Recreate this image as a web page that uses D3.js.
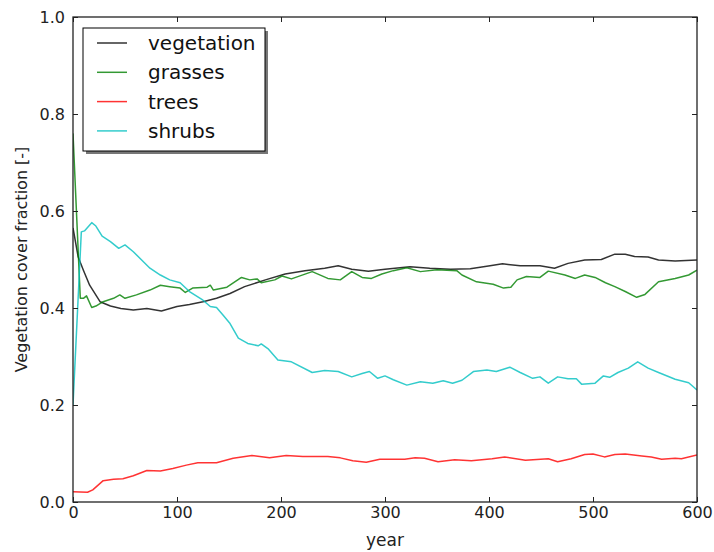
<!DOCTYPE html>
<html>
<head>
  <meta charset="utf-8">
  <title>Vegetation cover fraction</title>
  <script src="https://cdn.jsdelivr.net/npm/d3@7"></script>
  <style>
    body { margin:0; background:white; }
    svg text { font-family:"DejaVu Sans", sans-serif; }
    .axis text { font-size:16px; fill:#222; }
    .axis line { stroke:#222; }
  </style>
</head>
<body>
<div id="chart"></div>
<script>
// series (year, fraction)
var vegYears  = [0, 5, 10, 16, 26, 36, 46, 58, 71, 85, 100, 112, 125, 138, 151, 165, 185, 204, 223, 242, 255, 268, 284, 300, 324, 343, 363, 382, 401, 413, 430, 449, 463, 476, 492, 508, 521, 531, 540, 553, 563, 579, 600];
var vegValues = [0.565, 0.505, 0.478, 0.447, 0.413, 0.404, 0.399, 0.396, 0.399, 0.394, 0.403, 0.407, 0.413, 0.42, 0.43, 0.444, 0.458, 0.47, 0.477, 0.482, 0.487, 0.48, 0.476, 0.48, 0.485, 0.482, 0.48, 0.481, 0.487, 0.491, 0.487, 0.487, 0.482, 0.492, 0.499, 0.50, 0.511, 0.511, 0.506, 0.505, 0.499, 0.497, 0.499];

var grassYears  = [0, 7, 10, 13, 18, 22, 29, 39, 45, 50, 61, 74, 84, 93, 103, 108, 115, 129, 132, 135, 148, 162, 170, 177, 181, 194, 201, 210, 230, 245, 257, 268, 278, 287, 297, 308, 321, 334, 350, 369, 374, 388, 404, 414, 421, 427, 436, 449, 457, 473, 483, 492, 502, 512, 521, 531, 542, 550, 563, 579, 592, 600];
var grassValues = [0.76, 0.42, 0.42, 0.425, 0.401, 0.404, 0.413, 0.42, 0.427, 0.42, 0.427, 0.437, 0.447, 0.444, 0.441, 0.432, 0.441, 0.443, 0.447, 0.437, 0.443, 0.463, 0.458, 0.46, 0.452, 0.458, 0.466, 0.46, 0.475, 0.461, 0.458, 0.475, 0.463, 0.461, 0.47, 0.477, 0.483, 0.475, 0.479, 0.477, 0.468, 0.454, 0.449, 0.441, 0.443, 0.458, 0.465, 0.463, 0.476, 0.468, 0.461, 0.468, 0.463, 0.452, 0.444, 0.434, 0.422, 0.428, 0.454, 0.461, 0.468, 0.478];

var treeYears  = [0, 14, 19, 29, 39, 48, 58, 71, 84, 96, 109, 120, 138, 154, 172, 189, 205, 221, 245, 257, 269, 282, 295, 305, 319, 329, 338, 351, 367, 383, 403, 415, 435, 457, 466, 479, 492, 500, 511, 521, 531, 547, 556, 566, 579, 585, 600];
var treeValues = [0.021, 0.02, 0.025, 0.044, 0.047, 0.048, 0.054, 0.065, 0.064, 0.069, 0.076, 0.081, 0.081, 0.09, 0.096, 0.091, 0.096, 0.094, 0.094, 0.091, 0.085, 0.082, 0.088, 0.088, 0.088, 0.091, 0.09, 0.083, 0.087, 0.085, 0.089, 0.093, 0.086, 0.089, 0.083, 0.089, 0.098, 0.099, 0.093, 0.098, 0.099, 0.095, 0.093, 0.088, 0.09, 0.089, 0.097];

var shrubYears  = [0, 8, 11, 18, 22, 28, 36, 44, 50, 58, 66, 74, 84, 93, 103, 112, 125, 132, 138, 144, 151, 159, 168, 178, 181, 188, 197, 210, 230, 242, 255, 268, 278, 285, 293, 300, 308, 321, 334, 346, 356, 365, 374, 385, 398, 407, 420, 430, 442, 449, 457, 466, 476, 484, 489, 502, 510, 516, 524, 534, 543, 553, 563, 579, 592, 600];
var shrubValues = [0.2, 0.557, 0.559, 0.576, 0.569, 0.548, 0.537, 0.523, 0.530, 0.516, 0.499, 0.482, 0.468, 0.458, 0.452, 0.434, 0.416, 0.403, 0.401, 0.386, 0.368, 0.338, 0.327, 0.322, 0.326, 0.315, 0.293, 0.289, 0.267, 0.271, 0.269, 0.258, 0.265, 0.269, 0.255, 0.26, 0.252, 0.241, 0.248, 0.245, 0.25, 0.245, 0.251, 0.269, 0.272, 0.269, 0.278, 0.267, 0.255, 0.258, 0.245, 0.258, 0.254, 0.254, 0.243, 0.245, 0.26, 0.257, 0.267, 0.276, 0.289, 0.276, 0.267, 0.253, 0.246, 0.231];

var seriesNames = ["vegetation", "grasses", "trees", "shrubs"];
var seriesColors = ["#000000", "#008000", "#ff0000", "#00bfbf"];
var xTicks = [0, 100, 200, 300, 400, 500, 600];
var yTicks = [0.0, 0.2, 0.4, 0.6, 0.8, 1.0];

var series = [
  {name: seriesNames[0], color: seriesColors[0], years: vegYears, values: vegValues},
  {name: seriesNames[1], color: seriesColors[1], years: grassYears, values: grassValues},
  {name: seriesNames[2], color: seriesColors[2], years: treeYears, values: treeValues},
  {name: seriesNames[3], color: seriesColors[3], years: shrubYears, values: shrubValues}
];

var W = 714, H = 552;
var mLeft = 73, mRight = 697, mTop = 17, mBottom = 502;

var svg = d3.select("#chart").append("svg")
  .attr("width", W).attr("height", H);

var x = d3.scaleLinear().domain([0, 600]).range([mLeft, mRight]);
var y = d3.scaleLinear().domain([0, 1]).range([mBottom, mTop]);

var line = d3.line()
  .x(function(d) { return x(d[0]); })
  .y(function(d) { return y(d[1]); });

svg.append("defs").append("clipPath").attr("id", "clip")
  .append("rect").attr("x", mLeft).attr("y", mTop)
  .attr("width", mRight - mLeft).attr("height", mBottom - mTop);

var plot = svg.append("g").attr("clip-path", "url(#clip)");
series.forEach(function(s) {
  var pts = s.years.map(function(yr, i) { return [yr, s.values[i]]; });
  plot.append("path")
    .datum(pts)
    .attr("d", line)
    .attr("fill", "none")
    .attr("stroke", s.color)
    .attr("stroke-opacity", 0.8)
    .attr("stroke-width", 1.5)
    .attr("stroke-linejoin", "round");
});

// axes, ticks inside on all four sides
function noDomain(g) { g.select(".domain").remove(); g.attr("font-family", null).attr("font-size", null); }

svg.append("g").attr("class", "axis")
  .attr("transform", "translate(0," + mBottom + ")")
  .call(d3.axisBottom(x).tickValues(xTicks).tickSize(-5).tickPadding(5).tickFormat(d3.format("d")))
  .call(noDomain);
svg.append("g").attr("class", "axis")
  .attr("transform", "translate(0," + mTop + ")")
  .call(d3.axisTop(x).tickValues(xTicks).tickSize(-5).tickFormat(""))
  .call(noDomain);
svg.append("g").attr("class", "axis")
  .attr("transform", "translate(" + mLeft + ",0)")
  .call(d3.axisLeft(y).tickValues(yTicks).tickSize(-5).tickPadding(8).tickFormat(d3.format(".1f")))
  .call(noDomain);
svg.append("g").attr("class", "axis")
  .attr("transform", "translate(" + mRight + ",0)")
  .call(d3.axisRight(y).tickValues(yTicks).tickSize(-5).tickFormat(""))
  .call(noDomain);

svg.append("rect")
  .attr("x", mLeft).attr("y", mTop)
  .attr("width", mRight - mLeft).attr("height", mBottom - mTop)
  .attr("fill", "none").attr("stroke", "#222").attr("stroke-width", 1.3);

svg.append("text")
  .attr("x", (mLeft + mRight) / 2).attr("y", 546)
  .attr("text-anchor", "middle").attr("font-size", 17).attr("fill", "#222")
  .text("year");
svg.append("text")
  .attr("transform", "translate(27," + ((mTop + mBottom) / 2) + ") rotate(-90)")
  .attr("text-anchor", "middle").attr("font-size", 16).attr("fill", "#222")
  .text("Vegetation cover fraction [-]");

// legend with shadow
var lg = svg.append("g");
lg.append("rect").attr("x", 86).attr("y", 31).attr("width", 182).attr("height", 123)
  .attr("fill", "#555").attr("opacity", 0.8);
lg.append("rect").attr("x", 83).attr("y", 28).attr("width", 182).attr("height", 123)
  .attr("fill", "white").attr("stroke", "#000").attr("stroke-width", 1);
series.forEach(function(s, i) {
  var ry = 43 + i * 29.3;
  lg.append("line").attr("x1", 97).attr("x2", 127).attr("y1", ry).attr("y2", ry)
    .attr("stroke", s.color).attr("stroke-opacity", 0.8).attr("stroke-width", 1.5);
  lg.append("text").attr("x", 148).attr("y", ry).attr("dy", "0.35em")
    .attr("font-size", 20).attr("fill", "#111").text(s.name);
});
</script>
</body>
</html>
